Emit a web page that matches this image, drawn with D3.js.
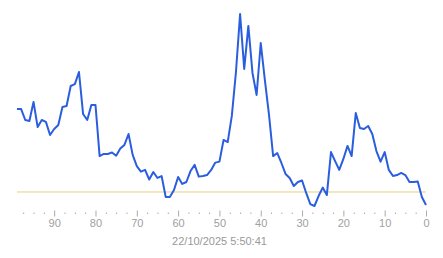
<!DOCTYPE html>
<html>
<head>
<meta charset="utf-8">
<script src="https://cdn.jsdelivr.net/npm/d3@7"></script>
<style>
body { margin: 0; background: #fff; }
text { font-family: "Liberation Sans", Arial, sans-serif; }
</style>
</head>
<body>
<div id="chart"></div>
<script>
var width = 443;
var height = 258;

// seconds ago, 99 .. 0
var ages = d3.range(99, -1, -1);
var values = [
	50.5, 50.5, 44.8, 44.3, 54.2, 41.1, 44.8, 43.8, 37.0, 40.1,
	42.2, 51.6, 52.1, 62.5, 63.5, 69.8, 47.9, 44.8, 52.6, 52.6,
	26.0, 27.1, 27.1, 27.9, 26.2, 29.9, 31.8, 37.5, 26.6, 20.8,
	17.9, 18.8, 13.8, 17.7, 14.6, 15.6, 4.7, 4.7, 8.3, 15.1,
	11.5, 12.5, 18.2, 21.4, 15.3, 15.6, 16.1, 18.8, 22.6, 23.1,
	34.4, 33.3, 46.9, 69.8, 100, 71.4, 93.8, 69.3, 57.8, 84.9,
	65.6, 47.4, 26.0, 27.6, 22.4, 16.7, 14.6, 10.4, 12.5, 13.3,
	6.8, 1.0, 0, 5.2, 9.6, 5.7, 28.1, 23.4, 18.8, 24.5,
	31.3, 26.0, 48.4, 40.6, 40.1, 41.7, 37.5, 28.6, 23.1, 28.1,
	18.8, 15.6, 16.1, 17.2, 16.1, 12.5, 12.5, 12.8, 4.7, 0.5
];
var refValue = 7.3;
var tickValues = d3.range(0, 99, 2.5);
var timestamp = "22/10/2025 5:50:41";

var x = d3.scaleLinear().domain([99, 0]).range([17, 426]);
var y = d3.scaleLinear().domain([0, 100]).range([206, 14]);

var svg = d3.select("#chart").append("svg")
	.attr("width", width)
	.attr("height", height);

// reference line
svg.append("line")
	.attr("x1", x(99))
	.attr("x2", x(0))
	.attr("y1", y(refValue))
	.attr("y2", y(refValue))
	.attr("stroke", "#e8cf80")
	.attr("stroke-width", 1);

var line = d3.line()
	.x(function(d, i) { return x(ages[i]); })
	.y(function(d) { return y(d); });

svg.append("path")
	.datum(values)
	.attr("d", line)
	.attr("fill", "none")
	.attr("stroke", "#2b5ede")
	.attr("stroke-width", 2)
	.attr("stroke-linejoin", "round");

var axis = d3.axisBottom(x)
	.tickValues(tickValues)
	.tickSize(6)
	.tickFormat(function(d) { return d % 10 === 0 ? d : ""; });

var gx = svg.append("g")
	.attr("transform", "translate(0,210.5)")
	.call(axis);

gx.select(".domain").remove();
gx.selectAll(".tick line").attr("stroke", "#aaa");
gx.selectAll(".tick")
	.filter(function(d) { return d % 10 !== 0; })
	.select("line")
	.attr("y1", 2)
	.attr("y2", 3.5);
gx.selectAll(".tick text")
	.attr("fill", "#a0a0a0")
	.style("font-size", "11px")
	.style("font-family", "'Liberation Sans', Arial, sans-serif");

svg.append("text")
	.attr("x", (x(99) + x(0)) / 2 - 2)
	.attr("y", 245)
	.attr("text-anchor", "middle")
	.attr("fill", "#999")
	.style("font-size", "11px")
	.text(timestamp);
</script>
</body>
</html>
